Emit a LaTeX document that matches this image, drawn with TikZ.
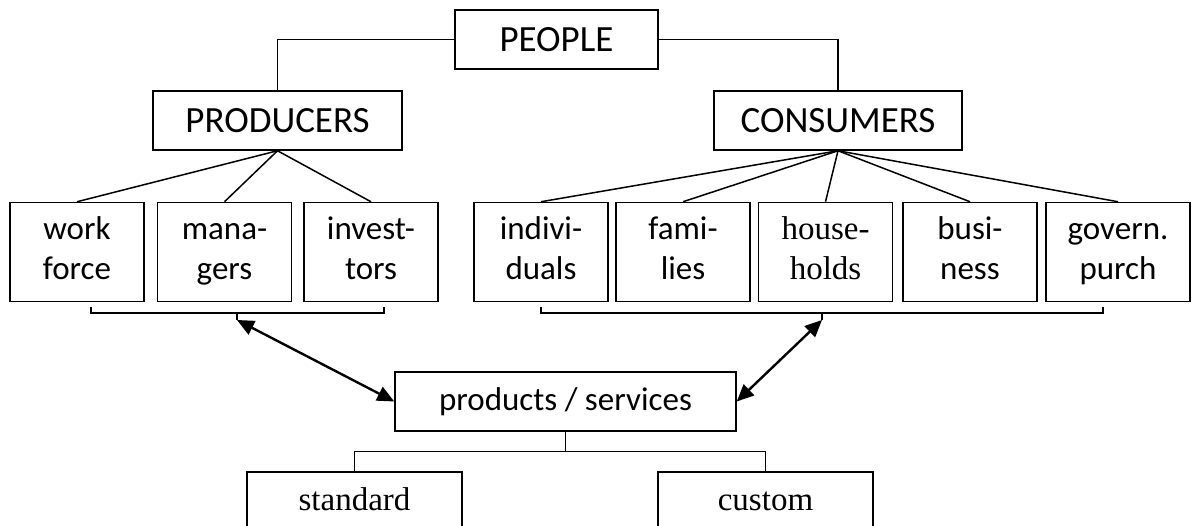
\documentclass[tikz,border=0pt]{standalone}
\usepackage{fontspec}
\setmainfont{Carlito}
\newfontfamily\timesfont{Liberation Serif}
\usetikzlibrary{arrows.meta}
\tikzset{
  box/.style={draw,line width=1.5pt,inner sep=0pt,align=center,
    font=\fontsize{33}{40}\selectfont},
  bigbox/.style={box,minimum height=59pt,font=\fontsize{37}{44}\selectfont},
  leaf/.style={box,minimum width=134pt,minimum height=99pt},
  serif/.style={font=\timesfont\fontsize{33}{40}\selectfont},
  link/.style={line width=1.5pt},
  flow/.style={line width=2.4pt,{Triangle[length=17pt,width=15pt]}-{Triangle[length=17pt,width=15pt]}}
}
\begin{document}
\begin{tikzpicture}[x=1pt,y=-1pt]
  \useasboundingbox (0,0) rectangle (1192,526);
  \clip (0,0) rectangle (1192,526);
  % top levels
  \node[bigbox,minimum width=203pt] (people) at (556.5,39.5) {PEOPLE};
  \node[bigbox,minimum width=249pt] (prod) at (277.5,120.5) {PRODUCERS};
  \node[bigbox,minimum width=248pt] (cons) at (838,120.5) {CONSUMERS};
  \draw[link] (people.west) -| (prod.north);
  \draw[link] (people.east) -| (cons.north);
  % producer groups
  \node[leaf] (work) at (77,252) {\strut work\\\strut force};
  \node[leaf] (mgr) at (224.5,252) {\strut mana-\\\strut gers};
  \node[leaf] (inv) at (371,252) {\strut invest-\\\strut tors};
  \foreach \n in {work,mgr,inv}
    \draw[link] (prod.south) -- (\n.north);
  % consumer groups
  \node[leaf] (indiv) at (541,252) {\strut indivi-\\\strut duals};
  \node[leaf] (fam) at (683,252) {\strut fami-\\\strut lies};
  \node[leaf,serif] (house) at (825.5,252) {\strut house-\\\strut holds};
  \node[leaf] (biz) at (970,252) {\strut busi-\\\strut ness};
  \node[leaf,minimum width=144pt] (gov) at (1118,252) {\strut govern.\\\strut purch};
  \foreach \n in {indiv,fam,house,biz,gov}
    \draw[link] (cons.south) -- (\n.north);
  % brackets
  \draw[link] (91,307) -- (91,313) -- (384,313) -- (384,307);
  \draw[link] (541,307) -- (541,313) -- (1103,313) -- (1103,307);
  \coordinate (pb) at (237,320);
  \coordinate (cb) at (822,320);
  \draw[link] (237,313) -- (pb);
  \draw[link] (822,313) -- (cb);
  % goods
  \node[box,minimum width=341pt,minimum height=59pt] (goods) at (565.5,401.5) {products / services};
  \draw[flow] (pb) -- (goods.west);
  \draw[flow] (cb) -- (goods.east);
  \node[box,serif,minimum width=215pt,minimum height=62pt] (std) at (354.5,503) {\strut standard};
  \node[box,serif,minimum width=215pt,minimum height=62pt] (cust) at (765.5,503) {\strut custom};
  \draw[link] (goods.south) -- ++(0,20) -| (std.north);
  \draw[link] (goods.south) -- ++(0,20) -| (cust.north);
\end{tikzpicture}
\end{document}
